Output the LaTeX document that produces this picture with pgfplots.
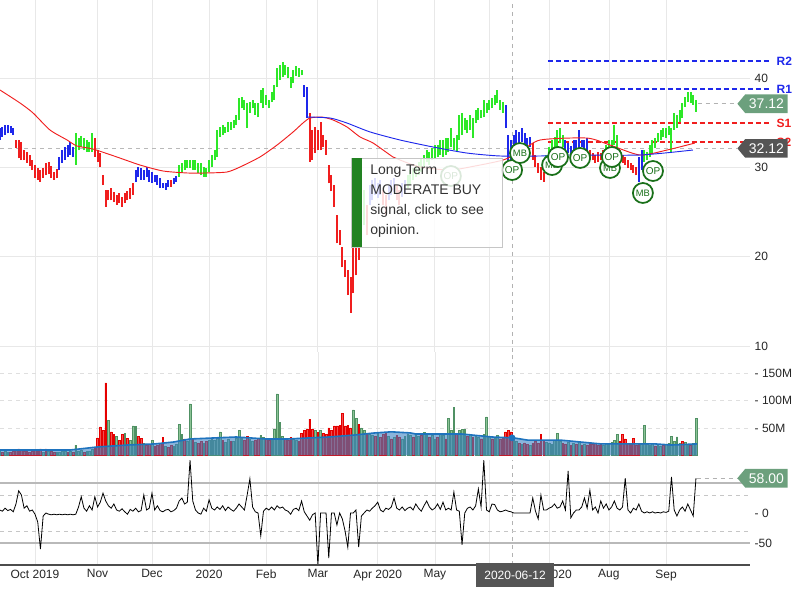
\documentclass[border=0pt]{standalone}
\usepackage{pgfplots}
\pgfplotsset{compat=1.18}
\usepackage{pgfplotstable}
\usepackage{fontspec}
\setmainfont{Liberation Sans}
\usetikzlibrary{shapes.symbols}
\definecolor{pgreen}{RGB}{45,232,40}
\definecolor{pred}{RGB}{240,30,30}
\definecolor{pblue}{RGB}{30,40,235}
\definecolor{vgreen}{RGB}{140,195,150}
\definecolor{vgreenD}{RGB}{80,145,100}
\definecolor{vred}{RGB}{240,80,80}
\definecolor{vmafill}{RGB}{60,130,195}
\definecolor{vmaline}{RGB}{30,115,190}
\definecolor{tagg}{RGB}{108,160,125}
\definecolor{tagd}{RGB}{85,85,85}
\definecolor{cgreen}{RGB}{25,112,25}
\definecolor{ttgreen}{RGB}{34,130,34}
\pgfplotstableread{
i lo hi c v vc o
-13 33.1 34.4 3 8 1 5
-12 33.4 34.5 3 6 0 3
-11 33.6 34.7 3 7 1 8
-10 33.8 34.7 3 6 1 4
-9 33.9 34.6 3 5 0 6
-8 33.6 34.4 3 7 0 2
-7 32.2 33.1 2 9 0 15
-6 31.0 33.1 2 12 0 37
-5 30.8 32.8 2 10 0 30
-4 30.8 31.9 2 8 0 8
-3 30.5 31.7 2 7 0 12
-2 30.2 31.4 2 6 0 3
-1 29.7 30.8 2 8 0 5
0 28.8 30.3 2 9 0 -2
1 28.6 29.9 2 7 0 -15
2 28.4 29.7 2 12 0 -60
3 28.8 29.9 2 6 1 -5
4 29.1 30.5 2 12 0 0
5 29.2 30.6 2 8 1 -2
6 28.8 30.2 2 7 0 -3
7 28.6 29.5 2 6 0 -2
8 28.8 29.8 2 5 1 -3
9 29.7 31.2 3 6 1 -2
10 30.5 31.9 3 7 1 -3
11 30.8 32.3 3 8 1 -2
12 31.2 32.5 3 6 0 -3
13 31.4 32.8 3 7 1 -2
14 31.2 32.3 3 6 0 -3
15 30.3 33.8 1 19 1 -2
16 31.9 33.3 1 8 1 10
17 32.3 33.5 1 9 1 27
18 31.9 33.3 1 6 0 8
19 31.7 33.1 1 7 1 3
20 31.7 32.8 1 8 1 12
21 31.7 33.8 1 12 1 5
22 31.2 33.3 2 14 0 27
23 30.6 31.9 2 32 0 10
24 30.0 31.6 2 52 0 18
25 28.0 29.1 2 45 0 33
26 25.6 27.5 2 132 0 20
27 26.3 27.5 2 64 1 12
28 26.3 27.7 2 43 0 8
29 26.1 27.2 2 39 0 15
30 25.8 26.9 2 35 1 5
31 26.0 27.1 2 28 0 3
32 25.6 26.7 2 38 0 7
33 26.0 27.1 2 40 1 2
34 26.3 27.3 2 31 0 -2
35 26.5 27.7 2 28 1 6
36 26.9 28.3 2 54 1 3
37 28.4 29.7 3 53 1 8
38 28.9 30.0 3 35 0 2
39 28.6 29.9 3 31 0 4
40 28.6 29.7 3 22 1 30
41 28.9 30.0 3 18 0 5
42 28.4 29.7 3 20 0 8
43 28.3 29.5 3 28 1 33
44 28.4 29.1 3 16 0 5
45 28.0 29.1 3 18 0 12
46 27.7 28.8 3 22 0 4
47 27.7 28.3 3 33 0 2
48 27.5 28.3 3 17 1 5
49 27.8 28.6 3 15 0 6
50 27.8 28.6 2 19 0 2
51 28.1 28.8 3 16 1 4
52 28.4 29.0 3 20 1 8
53 28.9 30.3 1 57 1 20
54 29.4 30.5 1 38 1 25
55 29.7 30.8 1 30 0 15
56 29.9 30.8 1 25 1 18
57 29.9 30.8 1 94 1 88
58 29.7 30.8 1 30 0 20
59 29.7 30.8 1 24 1 5
60 29.4 30.5 1 22 0 0
61 29.1 30.5 1 26 0 -2
62 28.9 30.0 1 22 1 8
63 28.9 29.9 1 25 0 3
64 29.5 30.8 1 28 1 22
65 30.0 31.4 1 30 1 8
66 30.8 31.9 1 27 1 5
67 31.2 34.2 1 32 1 10
68 33.4 34.5 1 43 1 6
69 33.6 34.7 1 28 0 12
70 33.8 34.5 1 24 1 4
71 34.0 35.1 1 30 1 10
72 34.2 35.1 1 26 0 6
73 34.4 35.3 1 25 1 3
74 34.7 35.9 1 31 1 8
75 35.3 37.8 1 45 1 15
76 36.6 37.9 1 33 1 10
77 36.4 37.5 1 27 0 5
78 34.4 37.2 1 35 0 30
79 36.1 37.3 1 30 1 57
80 36.6 37.5 1 25 1 10
81 35.9 37.2 1 28 0 2
82 35.6 37.2 1 31 0 0
83 37.2 38.7 1 36 1 -38
84 36.6 38.9 1 33 1 3
85 37.0 38.1 1 29 0 8
86 36.6 37.5 1 27 0 5
87 37.3 38.4 1 30 1 10
88 37.5 39.2 1 47 1 5
89 39.0 41.1 1 112 1 12
90 39.8 41.5 1 60 1 8
91 40.1 41.8 1 35 1 10
92 40.3 41.5 1 30 0 5
93 40.0 41.2 1 28 0 3
94 38.9 40.1 1 33 0 -2
95 39.4 40.9 1 30 1 6
96 40.2 41.3 1 27 1 8
97 40.1 41.1 1 25 0 4
98 40.3 40.9 1 40 0 20
99 37.9 39.2 3 45 0 2
100 35.5 39.0 3 47 0 -5
101 30.6 36.1 2 66 0 -12
102 30.8 34.2 2 48 0 -3
103 31.6 34.5 2 45 1 0
104 31.9 34.2 2 42 0 -87
105 31.9 35.1 2 45 1 0
106 32.3 33.6 2 40 0 0
107 31.4 33.1 2 38 0 0
108 28.2 30.3 2 50 0 -75
109 27.3 29.1 2 45 0 0
110 25.6 28.0 2 54 0 0
111 21.5 24.7 2 54 0 -20
112 21.3 23.0 2 55 0 0
113 18.8 21.1 2 77 0 -10
114 17.7 19.6 2 54 0 -30
115 15.7 18.5 2 55 0 -57
116 13.7 17.7 2 50 0 0
117 15.9 21.0 2 83 1 0
118 17.9 21.3 2 68 1 5
119 19.6 24.1 2 57 0 -57
120 21.9 26.3 1 50 1 -5
121 23.5 27.5 1 45 1 0
122 22.4 25.8 2 40 0 5
123 25.8 28.0 3 38 1 3
124 26.3 28.6 3 36 1 8
125 26.9 28.8 3 35 0 12
126 26.6 28.2 3 42 1 18
127 26.9 28.6 3 33 0 5
128 25.8 27.5 2 38 0 2
129 24.7 26.9 2 40 0 8
130 26.3 28.0 3 35 1 6
131 26.9 28.6 3 30 0 10
132 27.2 28.8 3 33 1 25
133 26.3 28.0 2 36 0 8
134 25.8 27.5 2 34 0 5
135 26.7 28.3 3 30 1 10
136 27.1 28.6 3 35 1 4
137 27.7 29.1 1 38 1 8
138 28.0 29.7 1 36 1 10
139 28.6 29.9 1 33 0 5
140 28.9 30.3 1 40 1 15
141 29.1 30.6 1 35 1 8
142 29.5 31.0 1 37 0 3
143 29.9 31.4 1 42 1 12
144 30.6 31.9 1 38 1 20
145 30.3 31.7 1 33 0 10
146 30.8 32.2 1 36 1 5
147 31.0 32.5 1 30 1 8
148 31.2 32.5 1 34 0 15
149 31.4 33.1 1 38 1 6
150 31.2 33.1 1 36 1 18
151 31.4 33.3 1 30 0 5
152 31.7 33.3 1 68 1 8
153 32.3 34.4 1 45 1 5
154 31.9 33.3 1 88 1 35
155 31.7 33.6 1 40 0 5
156 33.1 35.9 1 45 1 3
157 33.6 36.1 1 48 1 -53
158 34.2 35.5 1 48 1 0
159 33.8 35.3 1 35 0 8
160 34.2 35.9 1 38 1 10
161 33.3 35.5 1 33 0 5
162 35.0 36.4 1 36 1 12
163 35.3 36.6 1 34 1 40
164 35.5 36.4 1 30 0 10
165 35.6 37.5 1 38 1 88
166 36.1 37.2 1 70 1 5
167 36.4 37.5 1 35 1 2
168 36.6 37.8 1 30 0 15
169 37.0 38.1 1 33 1 14
170 37.2 38.7 1 36 1 5
171 36.4 37.5 1 30 0 2
172 36.1 37.3 1 32 0 3
173 34.4 37.0 3 43 0 5
174 30.5 33.6 3 45 0 3
175 30.8 33.1 3 43 0 2
176 31.9 33.6 3 35 1 0
177 32.5 34.2 3 25 1 0
178 32.3 34.0 3 22 0 0
179 32.8 34.4 3 20 1 0
180 31.9 33.8 3 23 0 0
181 31.9 33.3 3 20 0 0
182 32.3 33.4 3 18 1 0
183 30.8 32.7 2 22 0 25
184 30.0 31.4 2 25 0 3
185 29.4 30.5 2 22 0 -10
186 28.6 30.0 2 39 0 30
187 28.4 29.5 2 26 0 5
188 29.7 31.4 1 24 1 5
189 31.2 32.3 1 22 1 8
190 31.6 33.1 1 20 1 10
191 32.3 33.4 1 28 1 15
192 31.9 34.2 1 40 1 8
193 32.7 34.4 1 25 1 10
194 32.3 33.6 1 22 0 20
195 31.2 33.1 3 20 0 5
196 31.6 32.7 3 24 1 70
197 31.2 32.4 3 18 0 -8
198 31.9 33.1 3 22 1 0
199 31.7 33.1 3 20 0 5
200 31.6 34.2 3 26 1 5
201 32.3 33.1 3 19 0 10
202 31.9 33.1 3 21 1 25
203 31.9 33.3 3 18 0 8
204 30.8 31.9 2 24 0 38
205 30.8 31.6 2 20 0 5
206 30.5 31.4 2 22 0 10
207 30.6 31.7 2 18 0 0
208 30.8 31.6 2 20 0 20
209 30.8 31.9 2 19 1 8
210 31.4 32.5 1 22 1 15
211 31.6 33.1 1 20 1 5
212 31.9 33.1 1 24 1 10
213 32.5 34.7 1 28 1 20
214 31.9 33.6 1 39 1 8
215 30.8 31.9 2 25 0 5
216 30.5 31.4 2 39 0 10
217 30.3 31.2 2 30 0 58
218 29.9 30.8 2 22 0 5
219 29.7 30.5 2 20 0 0
220 29.4 30.3 2 31 0 8
221 29.1 30.0 2 18 0 5
222 28.4 31.2 3 22 0 15
223 29.7 31.9 3 20 1 3
224 30.6 31.9 1 55 1 0
225 30.8 31.7 1 20 1 2
226 31.2 32.5 1 18 1 0
227 31.6 33.1 1 22 1 2
228 32.2 33.3 1 17 0 0
229 32.8 33.9 1 19 1 1
230 33.1 34.2 1 16 1 0
231 33.4 34.4 1 18 0 2
232 33.3 34.4 1 20 1 1
233 33.6 34.6 1 22 1 3
234 31.6 34.4 1 35 1 60
235 34.2 36.1 1 25 1 5
236 34.4 35.9 1 34 1 -5
237 35.1 36.4 1 22 1 5
238 35.5 37.2 1 26 0 10
239 36.8 37.9 1 24 1 3
240 37.3 38.4 1 21 1 15
241 37.2 38.4 1 19 0 5
242 37.0 38.1 1 22 1 -5
243 36.2 37.5 1 68 1 58
}\pd
\pgfplotsset{
  panel/.style={scale only axis, width=562.5pt, xmin=-12.87, xmax=262.87,
    axis line style={draw=none}, tick style={draw=none},
    xtick={0,23,43,64,85,104,126,147,167,189,211,232},
    xmajorgrids, clip mode=individual,
    yticklabel pos=right,
    tick label style={font=\fontsize{9}{10}\selectfont, text=black!85},
    /pgf/number format/assume math mode=true},
  pbar/.style={line width=1.5pt, mark=none, -, quiver={u=0, v=\thisrow{hi}-\thisrow{lo}},
    restrict expr to domain={\thisrow{c}}{#1:#1}, unbounded coords=discard},
  circ/.style={only marks, mark=*, mark size=7.5pt,
    mark options={fill=white, draw=cgreen, line width=1.3pt},
    nodes near coords, point meta=explicit symbolic,
    every node near coord/.append style={anchor=center, font=\fontsize{#1}{9}\selectfont, text=cgreen, inner sep=0pt}},
}
\tikzset{
  tagnode/.style={signal, signal to=west, signal pointer angle=100, text=white,
    font=\fontsize{10.5}{12}\selectfont, minimum height=14pt, inner xsep=2.8pt, inner ysep=0pt, anchor=west},
  rs/.style={line width=1pt, dash pattern=on 3.8pt off 2.2pt},
}
\begin{document}
\begin{tikzpicture}
\useasboundingbox (0,0) rectangle (600pt,450pt);
% ---------------- price panel ----------------
\begin{axis}[panel, at={(0pt,450pt)}, anchor=north west, height=264pt,
  ymin=9.33, ymax=48.733, ytick={10,20,30,40}, yticklabels={10,20,30,40},
  ymajorgrids, grid style={gray!18, line width=0.6pt}, xticklabels={}]
\draw[gray!60, dashed, line width=0.6pt] (axis cs:175.4,9.33) -- (axis cs:175.4,48.733);
\draw[gray!55, dashed, line width=0.8pt] (axis cs:-12.87,32.12) -- (axis cs:258.1,32.12);
% resistance / support
\draw[pblue, rs] (axis cs:188.6,41.9) -- (axis cs:270.2,41.9);
\draw[pblue, rs] (axis cs:188.6,38.77) -- (axis cs:270.2,38.77);
\draw[pred, rs] (axis cs:188.6,34.96) -- (axis cs:270.2,34.96);
\draw[pred, rs] (axis cs:188.6,32.84) -- (axis cs:270.2,32.84);
\node[anchor=west, inner sep=0pt, text=pblue, font=\bfseries\fontsize{9}{10}\selectfont] at (axis cs:272.6,41.9) {R2};
\node[anchor=west, inner sep=0pt, text=pblue, font=\bfseries\fontsize{9}{10}\selectfont] at (axis cs:272.6,38.77) {R1};
\node[anchor=west, inner sep=0pt, text=pred, font=\bfseries\fontsize{9}{10}\selectfont] at (axis cs:272.6,34.96) {S1};
\node[anchor=west, inner sep=0pt, text=pred, font=\bfseries\fontsize{9}{10}\selectfont] at (axis cs:272.6,32.84) {S2};
% price bars
\addplot[pgreen, pbar=1] table[x=i, y=lo] {\pd};
\addplot[pred, pbar=2] table[x=i, y=lo] {\pd};
\addplot[pblue, pbar=3] table[x=i, y=lo] {\pd};
% moving averages
\addplot[pred, line width=0.7pt, smooth, tension=0.4] coordinates {
(-12.9,38.66) (-5.5,37.20) (-0.7,36.08) (5.5,34.18) (11.8,33.06) (15.4,32.39) (21.3,32.05)
(30.1,31.16) (38.6,30.26) (47.1,29.59) (55.9,29.37) (63.2,29.37) (70.6,29.48) (75.4,30.04)
(82.7,31.16) (89.0,32.50) (94.9,33.96) (98.5,34.96) (101.1,35.52) (105.5,35.63) (109.6,35.30)
(114.7,34.52) (119.5,33.40) (124.3,32.72) (131.6,31.16) (134.2,30.82) (141.5,30.04) (152.6,29.70)
(161.8,30.15) (172.1,30.82) (178.3,31.72) (185.7,33.06) (202.9,33.28) (211.4,32.50) (222.4,31.38)
(232.4,31.94) (242.6,32.72)};
\addplot[pblue, line width=0.7pt, smooth, tension=0.4] coordinates {
(100.4,35.63) (108.5,35.52) (114.7,34.96) (123.2,33.96) (134.2,33.06) (146.3,32.28) (158.8,31.60)
(171.0,31.27) (185.7,31.27) (195.6,31.38) (222.4,31.38) (241.9,31.94)};
% opinion markers
\addplot[circ=7.5] table[x=x, y=y, meta=t] {
x y t
152.9 29.03 OP
175.4 29.70 OP
};
\addplot[circ=7] table[x=x, y=y, meta=t] {
x y t
178.3 31.60 MB
190.1 30.26 MB
211.4 29.93 MB
223.5 27.13 MB
};
\addplot[circ=7.5] table[x=x, y=y, meta=t] {
x y t
192.3 31.16 OP
200.4 31.05 OP
212.1 31.16 OP
227.2 29.59 OP
};
% tooltip
\fill[white, fill opacity=0.84] (axis cs:116.5,21.08) rectangle (axis cs:171.7,31.05);
\draw[gray!45, line width=0.6pt] (axis cs:116.5,21.08) rectangle (axis cs:171.7,31.05);
\fill[ttgreen] (axis cs:116.5,21.08) rectangle (axis cs:120.2,31.05);
\node[anchor=north west, align=left, inner sep=0pt, text=black!80, font=\fontsize{10.5}{15}\selectfont] at (axis cs:123.2,30.35) {Long-Term\\MODERATE BUY\\signal, click to see\\opinion.};
% price tags
\draw[gray!60, dashed, line width=0.6pt] (axis cs:243.6,37.12) -- (axis cs:258.1,37.12);
\node[tagnode, fill=tagg] at (axis cs:258.1,37.12) {37.12};
\node[tagnode, fill=tagd] at (axis cs:258.1,32.12) {32.12};
\end{axis}
% ---------------- volume panel ----------------
\begin{axis}[panel, at={(0pt,186pt)}, anchor=north west, height=77.6pt,
  ymin=0, ymax=188.18, ytick={50,100,150}, yticklabels={- 50M,- 100M,- 150M},
  ymajorgrids, y grid style={gray!25, dashed}, x grid style={gray!18}, xticklabels={}]
\draw[gray!60, dashed, line width=0.6pt] (axis cs:175.4,0) -- (axis cs:175.4,188.18);
\addplot[ybar, bar width=0.62, bar shift=0pt, fill=vgreen, draw=vgreenD, line width=0.4pt,
  restrict expr to domain={\thisrow{vc}}{1:1}, unbounded coords=discard] table[x=i, y=v] {\pd};
\addplot[ybar, bar width=0.62, bar shift=0pt, fill=vred, draw=red!90!black, line width=0.4pt,
  restrict expr to domain={\thisrow{vc}}{0:0}, unbounded coords=discard] table[x=i, y=v] {\pd};
\addplot[fill=vmafill, fill opacity=0.6, draw=none] coordinates {
(-12.87,10) (13,10) (23,15.5) (34,19) (44,21) (51,24.5) (57,30) (74,33.6) (85,30) (93,30)
(108,33.6) (117,37) (125,41) (131,43) (138,41) (140,39) (157,39) (168,33.6) (176,32) (181,28)
(193,28) (208,21) (228,21) (234,19) (243.4,21)} \closedcycle;
\addplot[vmaline, line width=1.2pt] coordinates {
(-12.87,10) (13,10) (23,15.5) (34,19) (44,21) (51,24.5) (57,30) (74,33.6) (85,30) (93,30)
(108,33.6) (117,37) (125,41) (131,43) (138,41) (140,39) (157,39) (168,33.6) (176,32) (181,28)
(193,28) (208,21) (228,21) (234,19) (243.4,21)};
\addplot[only marks, mark=*, mark size=2.3pt, color=vmaline] coordinates {(175.4,32.1)};
\end{axis}
% ---------------- oscillator panel ----------------
\begin{axis}[panel, at={(0pt,105pt)}, anchor=north west, height=78.75pt,
  ymin=-86.67, ymax=88.33, ytick={-50,0}, yticklabels={-50,- 0},
  grid style={gray!18},
  xticklabels={Oct 2019,Nov,Dec,2020,Feb,Mar,Apr 2020,May,{},{\phantom{Jul\ 2}020},Aug,Sep}]
\draw[gray!60, dashed, line width=0.6pt] (axis cs:175.4,-86.67) -- (axis cs:175.4,88.33);
\draw[gray!55, line width=1.1pt] (axis cs:-12.87,50) -- (axis cs:262.87,50);
\draw[gray!55, line width=1.1pt] (axis cs:-12.87,-50) -- (axis cs:262.87,-50);
\draw[gray!45, dashed, line width=0.6pt] (axis cs:-12.87,30) -- (axis cs:262.87,30);
\draw[gray!45, dashed, line width=0.6pt] (axis cs:-12.87,-30) -- (axis cs:262.87,-30);
\addplot[black, line width=0.6pt] table[x=i, y=o] {\pd};
\draw[gray!60, dashed, line width=0.6pt] (axis cs:243.2,58) -- (axis cs:258.1,58);
\node[tagnode, fill=tagg] at (axis cs:258.1,58) {58.00};
\draw[black!70, line width=0.8pt] (rel axis cs:0,0) -- (rel axis cs:1,0);
\node[fill=tagd, text=white, font=\fontsize{9}{10}\selectfont, minimum height=17.5pt, minimum width=58.5pt, inner sep=1pt, anchor=center] at ([yshift=-7.5pt]axis cs:176.5,-86.67) {2020-06-12};
\end{axis}
\end{tikzpicture}
\end{document}
